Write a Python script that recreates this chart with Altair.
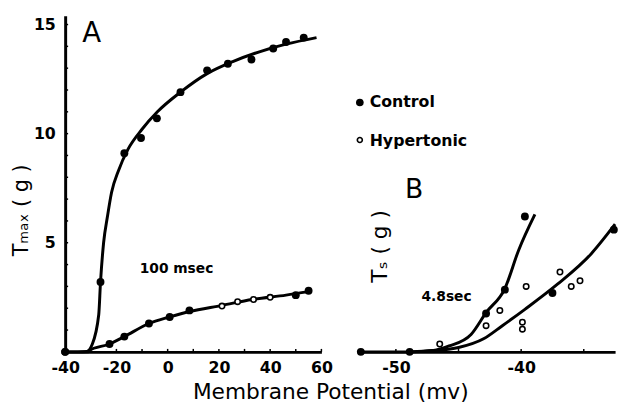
import altair as alt
import pandas as pd

# ---------------- Panel A (Tmax vs membrane potential) ----------------
# upper curve: control points
a_ctrl_x = [-40, -26.2, -16.9, -10.4, -4.2, 5.0, 15.4, 23.5, 32.7, 41.2, 46.2, 53.1]
a_ctrl_y = [0.0, 3.2, 9.1, 9.8, 10.7, 11.9, 12.9, 13.2, 13.4, 13.9, 14.2, 14.4]
# lower curve (100 msec) points
a_low_x = [-40, -22.7, -16.9, -7.3, 0.8, 8.5, 21.2, 27.3, 33.5, 40.0, 50.0, 55.0]
a_low_y = [0.0, 0.36, 0.7, 1.3, 1.6, 1.9, 2.1, 2.3, 2.4, 2.5, 2.6, 2.8]
a_low_group = ["Control", "Control", "Control", "Control", "Control", "Control",
               "Hypertonic", "Hypertonic", "Hypertonic", "Hypertonic", "Control", "Control"]
# fitted curves
a_fit_up_x = [-40, -35, -31.5, -29.6, -26.9, -26.2, -25.0, -23.5, -21.9, -19.2, -15.4,
              -10.0, -4.0, 5.0, 15.4, 25.4, 35.8, 46.2, 58.1]
a_fit_up_y = [0.0, 0.0, 0.02, 0.3, 1.7, 3.2, 5.0, 6.2, 7.3, 8.3, 9.3,
              10.2, 11.0, 11.9, 12.75, 13.3, 13.75, 14.1, 14.4]
a_fit_low_x = [-40, -31, -30.8, -22.7, -16.9, -7.3, 0.8, 8.5, 21.2, 33.0, 46.2, 55.0]
a_fit_low_y = [0.0, 0.0, 0.05, 0.36, 0.7, 1.3, 1.6, 1.85, 2.13, 2.4, 2.6, 2.76]
a_xticks = [-40, -20, 0, 20, 40, 60]
a_yticks = [5, 10, 15]
a_minor_x = [-30, -20, -10, 0, 10, 20, 30, 40, 50, 60]
a_minor_y = list(range(1, 16))

# ---------------- Panel B (Ts vs membrane potential) ----------------
b_pts_x = [-52.8, -48.9, -39.7, -41.3, -42.8, -37.5, -32.6,
           -46.5, -42.8, -41.7, -39.6, -39.9, -39.9, -36.9, -36.0, -35.3]
b_pts_y = [0.0, 0.0, 6.2, 2.85, 1.76, 2.7, 5.6,
           0.36, 1.2, 1.9, 3.0, 1.36, 1.04, 3.66, 3.0, 3.26]
b_pts_group = ["Control"] * 7 + ["Hypertonic"] * 9
b_fit_up_x = [-52.8, -48.9, -47.0, -45.75, -44.0, -42.8, -41.3, -40.2, -38.9]
b_fit_up_y = [0.0, 0.0, 0.06, 0.27, 0.8, 1.8, 2.9, 4.66, 6.3]
b_fit_low_x = [-48.9, -47.0, -45.0, -43.0, -41.5, -39.7, -37.1, -34.4, -32.5]
b_fit_low_y = [0.0, 0.06, 0.2, 0.6, 1.2, 1.95, 3.1, 4.5, 5.85]
b_xticks = [-50, -40]
b_minor_x = [-50, -45, -40, -35]

FONT = "DejaVu Sans"
Y_MAX = 15.4
xA = alt.Scale(domain=[-40, 60], nice=False)
xB = alt.Scale(domain=[-52.8, -32.5], nice=False)
yS = alt.Scale(domain=[0, Y_MAX], nice=False)

W_A, W_B, H = 260, 258, 341
TICK_Y = 3 * Y_MAX / H          # ~3 px in data units
TICK_XA = 3 * 100 / W_A

label_style = dict(labelFont=FONT, labelFontWeight="bold", labelFontSize=16,
                   labelColor="black", domainColor="black", domainWidth=3,
                   ticks=False, grid=False, labelFlush=False, labelOverlap=False,
                   labelExpr="replace(datum.label, '−', '-')")

# ---- Panel A ----
a_fit = pd.concat([
    pd.DataFrame({"x": a_fit_up_x, "y": a_fit_up_y, "curve": "upper"}),
    pd.DataFrame({"x": a_fit_low_x, "y": a_fit_low_y, "curve": "lower"}),
])
a_pts = pd.concat([
    pd.DataFrame({"x": a_ctrl_x, "y": a_ctrl_y, "group": "Control"}),
    pd.DataFrame({"x": a_low_x, "y": a_low_y, "group": a_low_group}),
])

a_lines = alt.Chart(a_fit).mark_line(color="black", strokeWidth=3, interpolate="monotone").encode(
    x=alt.X("x:Q", scale=xA, axis=alt.Axis(
        values=a_xticks, title="Membrane Potential (mv)", labelPadding=8,
        titleFont=FONT, titleFontSize=22, titleFontWeight="normal", titleColor="black",
        titleX=269, titleY=47, titleAlign="center", titleBaseline="alphabetic",
        **label_style)),
    y=alt.Y("y:Q", scale=yS, axis=alt.Axis(
        values=a_yticks, title="Tₘₐₓ ( g )", labelPadding=10,
        titleFont=FONT, titleFontSize=21, titleFontWeight="normal", titleColor="black",
        titleAngle=270, titleX=-44, titleY=197, titleAlign="center", titleBaseline="middle",
        **label_style)),
    detail="curve:N",
)

a_filled = alt.Chart(a_pts).transform_filter(alt.datum.group == "Control").mark_point(
    filled=True, shape="circle", size=64, color="black", opacity=1).encode(
    x=alt.X("x:Q", scale=xA), y=alt.Y("y:Q", scale=yS))
a_open = alt.Chart(a_pts).transform_filter(alt.datum.group == "Hypertonic").mark_point(
    filled=False, shape="circle", size=30, stroke="black", strokeWidth=1.6, fill="white",
    opacity=1, fillOpacity=1).encode(
    x=alt.X("x:Q", scale=xA), y=alt.Y("y:Q", scale=yS))

a_yt = pd.DataFrame({"y": a_minor_y})
a_ytick = alt.Chart(a_yt).transform_calculate(x0="-40", x1=f"-40 + {TICK_XA}").mark_rule(
    color="black", strokeWidth=1.5).encode(
    x=alt.X("x0:Q", scale=xA), x2="x1:Q", y=alt.Y("y:Q", scale=yS))
a_xt = pd.DataFrame({"x": a_minor_x})
a_xtick = alt.Chart(a_xt).transform_calculate(y0="0", y1=f"{TICK_Y}").mark_rule(
    color="black", strokeWidth=1.5).encode(
    x=alt.X("x:Q", scale=xA), y=alt.Y("y0:Q", scale=yS), y2="y1:Q")

def label(text, px, py, size, weight="bold", align="center", angle=0):
    return alt.Chart(pd.DataFrame({"t": [text]})).mark_text(
        font=FONT, fontSize=size, fontWeight=weight, color="black", align=align,
        baseline="middle", angle=angle).encode(
        x=alt.value(px), y=alt.value(py), text="t:N")

panel_a = alt.layer(
    a_lines, a_ytick, a_xtick, a_filled, a_open,
    label("A", 27, 19, 28, weight="normal"),
    label("100 msec", 113, 257, 14),
).properties(width=W_A, height=H)

# ---- Panel B ----
b_fit = pd.concat([
    pd.DataFrame({"x": b_fit_up_x, "y": b_fit_up_y, "curve": "upper"}),
    pd.DataFrame({"x": b_fit_low_x, "y": b_fit_low_y, "curve": "lower"}),
])
b_pts = pd.DataFrame({"x": b_pts_x, "y": b_pts_y, "group": b_pts_group})

b_lines = alt.Chart(b_fit).mark_line(color="black", strokeWidth=3, interpolate="monotone").encode(
    x=alt.X("x:Q", scale=xB, axis=alt.Axis(values=b_xticks, title=None, labelPadding=8,
                                          **label_style)),
    y=alt.Y("y:Q", scale=yS, axis=None),
    detail="curve:N",
)
b_filled = alt.Chart(b_pts).transform_filter(alt.datum.group == "Control").mark_point(
    filled=True, shape="circle", size=64, color="black", opacity=1).encode(
    x=alt.X("x:Q", scale=xB), y=alt.Y("y:Q", scale=yS))
b_open = alt.Chart(b_pts).transform_filter(alt.datum.group == "Hypertonic").mark_point(
    filled=False, shape="circle", size=30, stroke="black", strokeWidth=1.6, fill="white",
    opacity=1, fillOpacity=1).encode(
    x=alt.X("x:Q", scale=xB), y=alt.Y("y:Q", scale=yS))
b_xt = pd.DataFrame({"x": b_minor_x})
b_xtick = alt.Chart(b_xt).transform_calculate(y0="0", y1=f"{TICK_Y}").mark_rule(
    color="black", strokeWidth=1.5).encode(
    x=alt.X("x:Q", scale=xB), y=alt.Y("y0:Q", scale=yS), y2="y1:Q")

legend_dot_ctrl = alt.Chart(pd.DataFrame({"g": ["Control"]})).mark_point(
    filled=True, shape="circle", size=60, color="black", opacity=1).encode(
    x=alt.value(-1), y=alt.value(88))
legend_dot_hyp = alt.Chart(pd.DataFrame({"g": ["Hypertonic"]})).mark_point(
    filled=False, shape="circle", size=26, stroke="black", strokeWidth=1.6, opacity=1).encode(
    x=alt.value(-1), y=alt.value(126))

panel_b = alt.layer(
    b_lines, b_xtick, b_filled, b_open,
    legend_dot_ctrl, legend_dot_hyp,
    label("Control", 9, 88, 16, align="left"),
    label("Hypertonic", 9, 127, 16, align="left"),
    label("B", 54, 177, 27, weight="normal"),
    label("4.8sec", 87, 285, 14),
    label("Tₛ ( g )", 20, 234, 22, weight="normal", angle=270),
).properties(width=W_B, height=H)

chart = alt.hconcat(panel_a, panel_b, spacing=40, bounds="flush").properties(
    padding={"left": 3, "top": 5, "right": 0, "bottom": 0},
    background="white",
).configure_view(stroke=None)

chart.save("out.html", embed_options={"renderer": "svg", "actions": False})
